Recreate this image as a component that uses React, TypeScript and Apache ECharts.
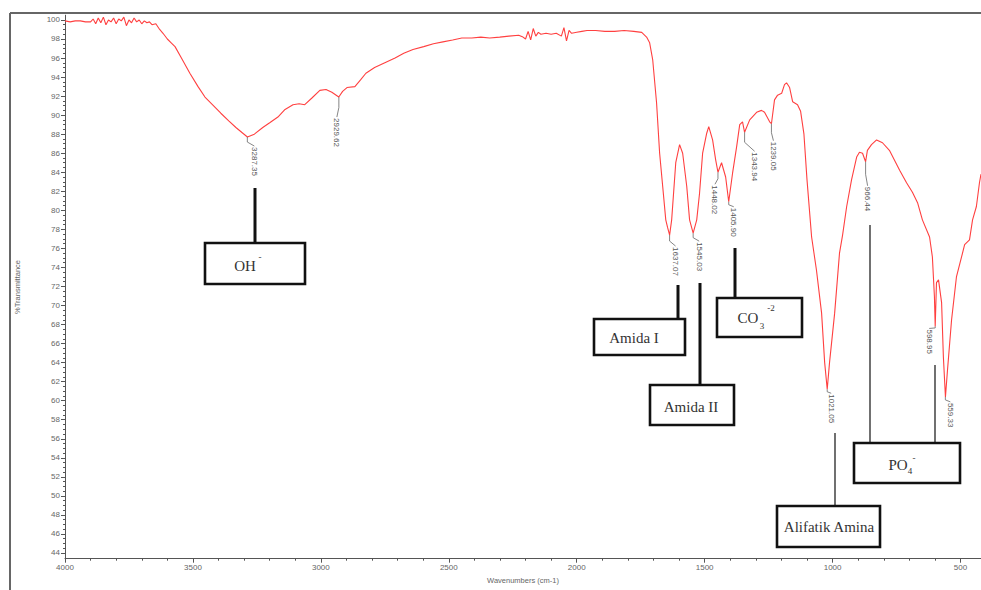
import React, { useEffect, useRef } from "react";
import * as echarts from "echarts";

// ---- data ----
const wavenumbers = [
  4000, 3980, 3960, 3940, 3920, 3900, 3890, 3880, 3870, 3860, 3850, 3840, 3830, 3820, 3810, 3800,
  3790, 3780, 3770, 3760, 3750, 3740, 3730, 3720, 3710, 3700, 3690, 3680, 3670, 3660, 3645, 3630,
  3617, 3600, 3585, 3570, 3545, 3512, 3480, 3453, 3420, 3391, 3360, 3332, 3305, 3287, 3260, 3227,
  3200, 3168, 3140, 3109, 3085, 3063, 3035, 3004, 2980, 2957, 2930, 2915, 2898, 2867, 2845, 2824,
  2790, 2750, 2710, 2676, 2640, 2598, 2560, 2523, 2485, 2449, 2410, 2375, 2340, 2301, 2265, 2227,
  2210, 2200, 2190, 2180, 2170, 2160, 2150, 2140, 2120, 2100, 2080, 2060, 2050, 2040, 2030, 2020,
  2000, 1980, 1960, 1926, 1890, 1852, 1815, 1777, 1746, 1727, 1715, 1703, 1688, 1676, 1664, 1652,
  1645, 1637, 1629, 1613, 1598, 1586, 1570, 1559, 1545, 1531, 1520, 1508, 1492, 1484, 1469, 1457,
  1448, 1434, 1418, 1406, 1391, 1375, 1363, 1352, 1344, 1324, 1297, 1278, 1266, 1246, 1239, 1227,
  1215, 1199, 1188, 1180, 1168, 1156, 1137, 1125, 1112, 1100, 1082, 1063, 1043, 1031, 1021, 1012,
  992, 973, 961, 945, 926, 906, 895, 883, 871, 864, 848, 828, 805, 778, 738, 711,
  688, 668, 649, 621, 610, 602, 599, 594, 586, 574, 567, 559, 551, 535, 516, 496,
  484, 465, 453, 438, 426, 420,
];
const transmittance = [
  99.9, 99.8, 99.9, 99.9, 99.8, 99.8, 100.1, 99.6, 100.2, 99.7, 100.3, 99.5, 100.0, 99.8, 100.2, 99.6,
  100.1, 99.9, 100.3, 99.4, 100.0, 99.7, 100.2, 99.8, 100.0, 99.6, 99.9, 99.7, 99.8, 99.5, 99.6, 99.0,
  98.6, 98.0, 97.6, 97.2, 96.0, 94.4, 93.0, 91.9, 91.0, 90.2, 89.4, 88.7, 88.1, 87.7, 88.0, 88.7,
  89.2, 89.8, 90.6, 91.1, 91.2, 91.1, 91.8, 92.6, 92.7, 92.4, 91.9, 92.5, 92.9, 93.0, 93.7, 94.4,
  95.0, 95.5, 96.0, 96.5, 96.9, 97.2, 97.5, 97.7, 97.9, 98.1, 98.1, 98.2, 98.1, 98.2, 98.3, 98.4,
  98.2, 98.0, 98.8, 97.9, 99.1, 98.3, 98.7, 98.5, 98.6, 98.5, 98.6, 98.3, 99.2, 97.8, 98.9, 98.6,
  98.7, 98.8, 98.9, 98.9, 98.8, 98.8, 98.9, 98.8, 98.7, 98.2, 97.6, 95.8, 91.3, 86.0, 82.5, 79.0,
  78.2, 77.4, 79.0, 85.0, 86.9, 86.0, 82.5, 79.0, 77.6, 79.0, 81.8, 86.0, 88.1, 88.8, 87.4, 85.3,
  84.0, 85.0, 83.5, 80.9, 83.9, 86.7, 89.0, 89.3, 88.2, 89.5, 90.3, 90.5, 90.3, 89.3, 89.1, 91.6,
  92.1, 92.3, 93.2, 93.4, 92.9, 91.4, 91.1, 90.4, 88.0, 83.2, 77.2, 73.7, 69.2, 64.0, 61.2, 64.0,
  69.2, 75.5, 77.4, 80.4, 83.2, 85.6, 86.1, 86.0, 85.1, 86.3, 86.9, 87.4, 87.1, 86.3, 84.2, 82.9,
  81.9, 80.8, 79.0, 77.2, 75.1, 70.9, 67.8, 72.4, 72.7, 70.3, 64.6, 60.4, 63.2, 68.5, 73.0, 75.1,
  76.4, 76.9, 79.0, 80.4, 82.9, 83.8,
];

// tick labels
const xTickValues = [500, 1000, 1500, 2000, 2500, 3000, 3500, 4000];
const yTickValues = [44, 46, 48, 50, 52, 54, 56, 58, 60, 62, 64, 66, 68, 70, 72, 74, 76, 78, 80, 82, 84, 86, 88, 90, 92, 94, 96, 98, 100];

// peak annotations (position of the dip in the spectrum, and its printed label)
const peakWavenumbers = [3287.35, 2929.62, 1637.07, 1545.03, 1448.02, 1405.9, 1343.94, 1239.05, 1021.05, 871, 598.95, 559.33];
const peakTransmittance = [87.7, 91.9, 77.4, 77.6, 84.0, 80.9, 88.2, 89.1, 61.2, 85.1, 67.8, 60.4];
const peakLabels = ["3287.35", "2929.62", "1637.07", "1545.03", "1448.02", "1405.90", "1343.94", "1239.05", "1021.05", "966.44", "598.95", "559.33"];

// group assignments
const groupNames = ["OH", "Amida I", "Amida II", "CO", "Alifatik Amina", "PO"];

// ---- layout (pixels) ----
const labelOffsets = [
  [7, 10], [-2, 21], [6, 12], [6, 9], [-3, 13], [5, 6], [10, 20], [2, 18], [4, 5], [2, 25], [-6, 3], [5, 6],
];
const boxLayout = [
  { x: 205, y: 243, w: 100, h: 41, cx: 245, cy: 266 },
  { x: 594, y: 319, w: 91, h: 36, cx: 634, cy: 338 },
  { x: 650, y: 385, w: 84, h: 40, cx: 691, cy: 407 },
  { x: 717, y: 298, w: 85, h: 39, cx: 748, cy: 318 },
  { x: 777, y: 506, w: 103, h: 41, cx: 829, cy: 527 },
  { x: 854, y: 443, w: 106, h: 40, cx: 898, cy: 465 },
];
const scripts = [
  { t: "-", x: 260, y: 257 },
  { t: "3", x: 762, y: 326 },
  { t: "-2", x: 771, y: 308 },
  { t: "4", x: 910, y: 471 },
  { t: "-", x: 914, y: 458 },
];
const thickConnectors = [
  [255, 188, 255, 243],
  [678, 285, 678, 319],
  [700, 283, 700, 385],
  [735, 248, 735, 298],
];
const thinConnectors = [
  [835, 433, 835, 506],
  [870, 225, 870, 443],
  [935, 365, 935, 443],
];

function range(a: number, b: number, step: number) {
  const out: number[] = [];
  for (let v = a; v <= b + 1e-9; v += step) out.push(Math.round(v * 100) / 100);
  return out;
}

export default function App() {
  const ref = useRef<HTMLDivElement>(null);
  useEffect(() => {
    if (!ref.current) return;
    const chart = echarts.init(ref.current, undefined, { renderer: "svg" });
    const seriesData = wavenumbers.map((w, i) => [w, transmittance[i]]);
    const xMinor = range(500, 4000, 100).filter((v) => v % 500 !== 0);
    const yMinor = range(44, 100, 0.5).filter((v) => v % 2 !== 0);
    const labelColor = "#666";
    const axisColor = "#555";
    const font = "Liberation Sans";
    const plain = (v: number) => String(v);
    const xCommon = {
      type: "value",
      inverse: true,
      min: 420,
      max: 4000,
      splitLine: { show: false },
    };
    const yCommon = {
      type: "value",
      min: 43.4,
      max: 100.5,
      splitLine: { show: false },
    };
    chart.setOption({
      animation: false,
      backgroundColor: "#ffffff",
      grid: { left: 65, right: 0, top: 15.2, bottom: 31.3, containLabel: false },
      xAxis: [
        {
          ...xCommon,
          name: "Wavenumbers (cm-1)",
          nameLocation: "middle",
          nameGap: 18,
          nameTextStyle: { fontSize: 7.5, color: labelColor, fontFamily: font },
          axisLine: { show: true, lineStyle: { color: axisColor, width: 1 } },
          axisTick: { show: true, customValues: xTickValues, length: 4, lineStyle: { color: axisColor } },
          axisLabel: { customValues: xTickValues, formatter: plain, fontSize: 8, color: labelColor, fontFamily: font, margin: 5 },
        },
        {
          ...xCommon,
          position: "bottom",
          axisLine: { show: false },
          axisTick: { show: true, customValues: xMinor, length: 2, lineStyle: { color: axisColor } },
          axisLabel: { show: false },
        },
      ],
      yAxis: [
        {
          ...yCommon,
          name: "%Transmittance",
          nameLocation: "middle",
          nameGap: 44,
          nameRotate: 90,
          nameTextStyle: { fontSize: 7.5, color: labelColor, fontFamily: font },
          axisLine: { show: true, lineStyle: { color: axisColor, width: 1 } },
          axisTick: { show: true, customValues: yTickValues, length: 4, lineStyle: { color: axisColor } },
          axisLabel: { customValues: yTickValues, formatter: plain, fontSize: 8, color: labelColor, fontFamily: font, margin: 5 },
        },
        {
          ...yCommon,
          position: "left",
          axisLine: { show: false },
          axisTick: { show: true, customValues: yMinor, length: 2, lineStyle: { color: axisColor } },
          axisLabel: { show: false },
        },
      ],
      series: [
        {
          type: "line",
          xAxisIndex: 0,
          yAxisIndex: 0,
          data: seriesData,
          showSymbol: false,
          symbol: "none",
          lineStyle: { color: "#ff4040", width: 1.1 },
          z: 2,
        },
      ],
    });

    const graphics: any[] = [];
    // frame
    graphics.push({ type: "line", shape: { x1: 10, y1: 13, x2: 10, y2: 590 }, style: { stroke: "#666", lineWidth: 2 }, silent: true });
    graphics.push({ type: "line", shape: { x1: 10, y1: 13, x2: 981, y2: 13 }, style: { stroke: "#666", lineWidth: 2 }, silent: true });

    // peak labels
    peakWavenumbers.forEach((w, i) => {
      const p = chart.convertToPixel({ xAxisIndex: 0, yAxisIndex: 0 }, [w, peakTransmittance[i]]) as number[];
      const [dx, dy] = labelOffsets[i];
      const lx = p[0] + dx;
      const ly = p[1] + dy;
      graphics.push({
        type: "polyline",
        shape: { points: [[p[0], p[1]], [p[0], (p[1] + ly) / 2], [lx, ly - 1]] },
        style: { stroke: "#666", lineWidth: 0.8, fill: null },
        silent: true,
        z: 5,
      });
      graphics.push({
        type: "text",
        x: lx,
        y: ly,
        rotation: -Math.PI / 2,
        style: { text: peakLabels[i], fontSize: 8, fill: "#555", fontFamily: font, align: "left", verticalAlign: "middle" },
        silent: true,
        z: 5,
      });
    });

    thickConnectors.forEach((c) => {
      graphics.push({ type: "line", shape: { x1: c[0], y1: c[1], x2: c[2], y2: c[3] }, style: { stroke: "#111", lineWidth: 3 }, silent: true, z: 6 });
    });
    thinConnectors.forEach((c) => {
      graphics.push({ type: "line", shape: { x1: c[0], y1: c[1], x2: c[2], y2: c[3] }, style: { stroke: "#111", lineWidth: 1.2 }, silent: true, z: 6 });
    });

    boxLayout.forEach((b, i) => {
      graphics.push({
        type: "rect",
        shape: { x: b.x, y: b.y, width: b.w, height: b.h },
        style: { fill: "#fff", stroke: "#111", lineWidth: 2.6 },
        silent: true,
        z: 7,
      });
      graphics.push({
        type: "text",
        x: b.cx,
        y: b.cy,
        style: { text: groupNames[i], fontSize: 15, fill: "#333", fontFamily: "Liberation Serif", align: "center", verticalAlign: "middle" },
        silent: true,
        z: 8,
      });
    });
    scripts.forEach((s) => {
      graphics.push({
        type: "text",
        x: s.x,
        y: s.y,
        style: { text: s.t, fontSize: 9, fill: "#333", fontFamily: "Liberation Serif", align: "center", verticalAlign: "middle" },
        silent: true,
        z: 8,
      });
    });

    chart.setOption({ graphic: graphics });
    return () => chart.dispose();
  }, []);
  return <div ref={ref} style={{ position: "absolute", left: 0, top: 0, width: 981, height: 590 }} />;
}
